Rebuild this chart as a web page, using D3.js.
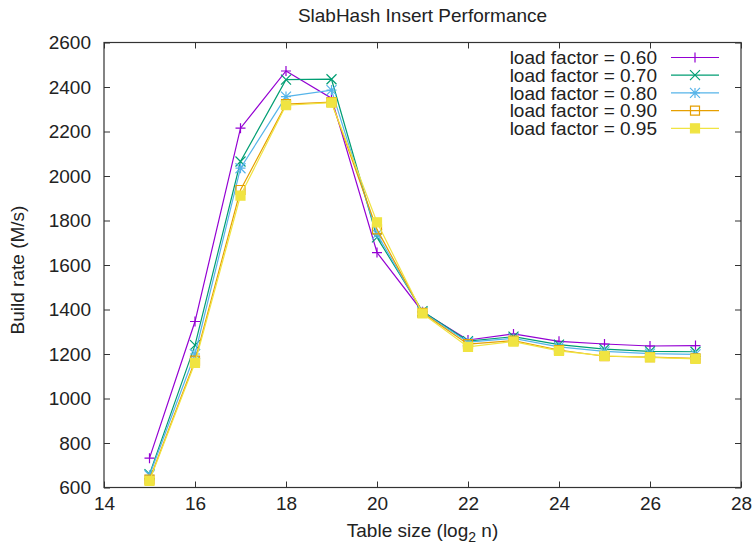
<!DOCTYPE html>
<html>
<head>
<meta charset="utf-8">
<script src="https://cdn.jsdelivr.net/npm/d3@7"></script>
<style>
  body { margin: 0; background: #fff; }
  svg { display: block; font-family: "Liberation Sans", Arial, sans-serif; }
</style>
</head>
<body>
<svg id="chart" width="753" height="544"></svg>
<script>
// --- Data ---
const tableSizes = [15, 16, 17, 18, 19, 20, 21, 22, 23, 24, 25, 26, 27];
const rate060 = [732, 1346, 2215, 2472, 2350, 1656, 1390, 1263, 1290, 1257, 1245, 1236, 1238];
const rate070 = [660, 1240, 2065, 2433, 2435, 1724, 1392, 1258, 1278, 1242, 1222, 1212, 1210];
const rate080 = [655, 1200, 2035, 2357, 2386, 1739, 1388, 1253, 1270, 1232, 1212, 1202, 1198];
const rate090 = [635, 1170, 1937, 2323, 2332, 1760, 1385, 1244, 1260, 1218, 1190, 1186, 1180];
const rate095 = [630, 1160, 1912, 2318, 2330, 1792, 1382, 1232, 1256, 1214, 1192, 1185, 1178];
const seriesLabels = ["load factor = 0.60", "load factor = 0.70", "load factor = 0.80", "load factor = 0.90", "load factor = 0.95"];
const xTicks = [14, 16, 18, 20, 22, 24, 26, 28];
const yTicks = [600, 800, 1000, 1200, 1400, 1600, 1800, 2000, 2200, 2400, 2600];

const colors = ["#9400d3", "#009e73", "#56b4e9", "#e69f00", "#f0e442"];
const pointTypes = ["plus", "cross", "star", "box", "fbox"];
const seriesValues = [rate060, rate070, rate080, rate090, rate095];

const series = seriesLabels.map((label, i) => ({
    label,
    color: colors[i],
    point: pointTypes[i],
    values: tableSizes.map((x, j) => ({ x, y: seriesValues[i][j] }))
}));

const svg = d3.select("#chart");
const margin = { top: 42.5, right: 12, bottom: 56.5, left: 104 };
const W = 753, H = 544;
const innerW = W - margin.left - margin.right;
const innerH = H - margin.top - margin.bottom;

const xScale = d3.scaleLinear().domain([14, 28]).range([0, innerW]);
const yScale = d3.scaleLinear().domain([600, 2600]).range([innerH, 0]);

const g = svg.append("g").attr("transform", `translate(${margin.left},${margin.top})`);

// --- Axes (inward ticks, mirrored on top/right like gnuplot) ---
const tickLen = 6;
const fontSize = 19;
const textColor = "#222";

g.append("g")
    .attr("transform", `translate(0,${innerH})`)
    .call(d3.axisBottom(xScale).tickValues(xTicks).tickSize(-tickLen).tickSizeOuter(0).tickPadding(9));
g.append("g")
    .call(d3.axisLeft(yScale).tickValues(yTicks).tickSize(-tickLen).tickSizeOuter(0).tickPadding(13)
        .tickFormat(d3.format("d")));
g.append("g")
    .call(d3.axisTop(xScale).tickValues(xTicks).tickSize(-tickLen).tickSizeOuter(0).tickFormat(""));
g.append("g")
    .attr("transform", `translate(${innerW},0)`)
    .call(d3.axisRight(yScale).tickValues(yTicks).tickSize(-tickLen).tickSizeOuter(0).tickFormat(""));

g.selectAll(".domain").remove();
g.selectAll(".tick line").attr("stroke", "#333");
g.selectAll(".tick text")
    .attr("fill", textColor)
    .style("font-size", fontSize + "px")
    .style("font-family", "'Liberation Sans', Arial, sans-serif");

// frame
g.append("rect")
    .attr("x", 0).attr("y", 0)
    .attr("width", innerW).attr("height", innerH)
    .attr("fill", "none")
    .attr("stroke", "#333")
    .attr("stroke-width", 1.2);

// --- Point symbols ---
function symbolPath(type, cx, cy) {
    const p = d3.path();
    const s = 5;     // half size for + / x
    const b = 4.5;   // half size for squares
    if (type === "plus" || type === "star") {
        p.moveTo(cx - s, cy); p.lineTo(cx + s, cy);
        p.moveTo(cx, cy - s); p.lineTo(cx, cy + s);
    }
    if (type === "cross" || type === "star") {
        p.moveTo(cx - s, cy - s); p.lineTo(cx + s, cy + s);
        p.moveTo(cx - s, cy + s); p.lineTo(cx + s, cy - s);
    }
    if (type === "box" || type === "fbox") {
        p.rect(cx - b, cy - b, 2 * b, 2 * b);
    }
    return p.toString();
}

const line = d3.line()
    .x(d => xScale(d.x))
    .y(d => yScale(d.y));

series.forEach(s => {
    const sg = g.append("g");
    sg.append("path")
        .datum(s.values)
        .attr("fill", "none")
        .attr("stroke", s.color)
        .attr("stroke-width", 1.2)
        .attr("d", line);
    sg.selectAll("path.pt")
        .data(s.values)
        .enter()
        .append("path")
        .attr("class", "pt")
        .attr("d", d => symbolPath(s.point, xScale(d.x), yScale(d.y)))
        .attr("fill", s.point === "fbox" ? s.color : "none")
        .attr("stroke", s.color)
        .attr("stroke-width", 1.2);
});

// --- Legend (top right, no box) ---
const legend = g.append("g");
const legendTextX = 553;          // right edge of text, in plot coords
const legendLineX0 = 567, legendLineX1 = 615;
const legendY0 = 15, legendStep = 17.7;

series.forEach((s, i) => {
    const y = legendY0 + i * legendStep;
    legend.append("text")
        .attr("x", legendTextX)
        .attr("y", y)
        .attr("dy", "0.35em")
        .attr("text-anchor", "end")
        .attr("fill", textColor)
        .style("font-size", fontSize + "px")
        .text(s.label);
    legend.append("line")
        .attr("x1", legendLineX0).attr("x2", legendLineX1)
        .attr("y1", y).attr("y2", y)
        .attr("stroke", s.color)
        .attr("stroke-width", 1.2);
    legend.append("path")
        .attr("d", symbolPath(s.point, (legendLineX0 + legendLineX1) / 2, y))
        .attr("fill", s.point === "fbox" ? s.color : "none")
        .attr("stroke", s.color)
        .attr("stroke-width", 1.2);
});

// --- Titles ---
svg.append("text")
    .attr("x", margin.left + innerW / 2)
    .attr("y", 21.5)
    .attr("text-anchor", "middle")
    .attr("fill", textColor)
    .style("font-size", fontSize + "px")
    .text("SlabHash Insert Performance");

const xLabel = svg.append("text")
    .attr("x", margin.left + innerW / 2)
    .attr("y", 536.5)
    .attr("text-anchor", "middle")
    .attr("fill", textColor)
    .style("font-size", fontSize + "px");
xLabel.append("tspan").text("Table size (log");
xLabel.append("tspan").attr("dy", 5).style("font-size", "14px").text("2");
xLabel.append("tspan").attr("dy", -5).text(" n)");

svg.append("text")
    .attr("transform", `translate(24,270) rotate(-90)`)
    .attr("text-anchor", "middle")
    .attr("fill", textColor)
    .style("font-size", fontSize + "px")
    .text("Build rate (M/s)");
</script>
</body>
</html>
